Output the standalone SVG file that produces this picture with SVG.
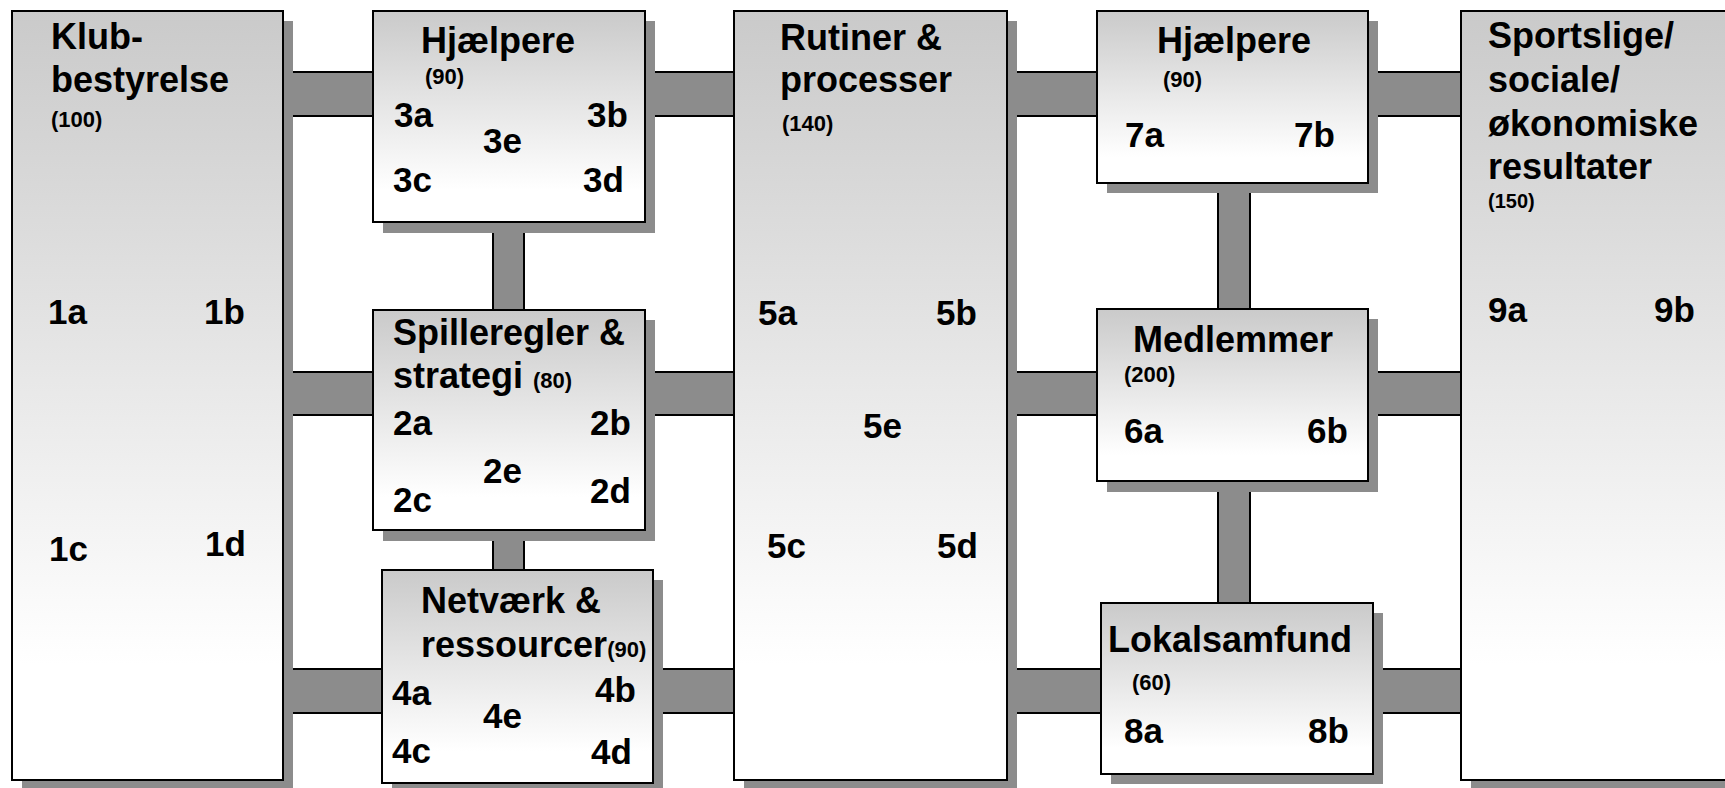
<svg xmlns="http://www.w3.org/2000/svg" width="1725" height="788" viewBox="0 0 1725 788">
<defs>
<linearGradient id="boxGrad" x1="0" y1="0" x2="0" y2="1">
<stop offset="0" stop-color="#cacaca"/>
<stop offset="0.85" stop-color="#ffffff"/>
<stop offset="1" stop-color="#ffffff"/>
</linearGradient>
<style>
.box{fill:url(#boxGrad);stroke:#000;stroke-width:2}
.shadow{fill:#8c8c8c}
.bar{fill:#8c8c8c;stroke:#000;stroke-width:2}
text{font-family:"Liberation Sans",Arial,sans-serif;font-weight:bold;fill:#000}
.t{font-size:36px}
.l{font-size:35px}
.s{font-size:22px}
</style>
</defs>
<rect width="1725" height="788" fill="#ffffff"/>
<g id="connectors">
<rect class="bar" x="283" y="72" width="1178" height="44"/>
<rect class="bar" x="283" y="372" width="1178" height="43"/>
<rect class="bar" x="283" y="669" width="1178" height="44"/>
<rect class="bar" x="493" y="222" width="31" height="348"/>
<rect class="bar" x="1218" y="183" width="32" height="420"/>
</g>
<g id="klub">
<rect class="shadow" x="22" y="21" width="271" height="769"/>
<rect class="box" x="12" y="11" width="271" height="769"/>
<text class="t" x="51" y="49">Klub-</text>
<text class="t" x="51" y="92">bestyrelse</text>
<text class="s" x="51" y="127">(100)</text>
<text class="l" x="48" y="324">1a</text>
<text class="l" x="204" y="324">1b</text>
<text class="l" x="49" y="561">1c</text>
<text class="l" x="205" y="556">1d</text>
</g>
<g id="hjaelpere3">
<rect class="shadow" x="383" y="21" width="272" height="212"/>
<rect class="box" x="373" y="11" width="272" height="211"/>
<text class="t" x="421" y="53">Hjælpere</text>
<text class="s" x="425" y="84">(90)</text>
<text class="l" x="394" y="127">3a</text>
<text class="l" x="587" y="127">3b</text>
<text class="l" x="483" y="153">3e</text>
<text class="l" x="393" y="192">3c</text>
<text class="l" x="583" y="192">3d</text>
</g>
<g id="spilleregler">
<rect class="shadow" x="383" y="320" width="272" height="221"/>
<rect class="box" x="373" y="310" width="272" height="220"/>
<text class="t" x="393" y="345">Spilleregler &amp;</text>
<text class="t" x="393" y="388">strategi <tspan class="s">(80)</tspan></text>
<text class="l" x="393" y="435">2a</text>
<text class="l" x="590" y="435">2b</text>
<text class="l" x="483" y="483">2e</text>
<text class="l" x="393" y="512">2c</text>
<text class="l" x="590" y="503">2d</text>
</g>
<g id="netvaerk">
<rect class="shadow" x="392" y="580" width="271" height="213"/>
<rect class="box" x="382" y="570" width="271" height="213"/>
<text class="t" x="421" y="613">Netværk &amp;</text>
<text class="t" x="421" y="657">ressourcer<tspan class="s">(90)</tspan></text>
<text class="l" x="392" y="705">4a</text>
<text class="l" x="595" y="702">4b</text>
<text class="l" x="483" y="728">4e</text>
<text class="l" x="392" y="763">4c</text>
<text class="l" x="591" y="764">4d</text>
</g>
<g id="rutiner">
<rect class="shadow" x="744" y="21" width="273" height="769"/>
<rect class="box" x="734" y="11" width="273" height="769"/>
<text class="t" x="780" y="50">Rutiner &amp;</text>
<text class="t" x="780" y="92">processer</text>
<text class="s" x="782" y="131">(140)</text>
<text class="l" x="758" y="325">5a</text>
<text class="l" x="936" y="325">5b</text>
<text class="l" x="863" y="438">5e</text>
<text class="l" x="767" y="558">5c</text>
<text class="l" x="937" y="558">5d</text>
</g>
<g id="hjaelpere7">
<rect class="shadow" x="1107" y="21" width="271" height="172"/>
<rect class="box" x="1097" y="11" width="271" height="172"/>
<text class="t" x="1157" y="53">Hjælpere</text>
<text class="s" x="1163" y="87">(90)</text>
<text class="l" x="1125" y="147">7a</text>
<text class="l" x="1294" y="147">7b</text>
</g>
<g id="medlemmer">
<rect class="shadow" x="1107" y="319" width="271" height="173"/>
<rect class="box" x="1097" y="309" width="271" height="172"/>
<text class="t" x="1133" y="352">Medlemmer</text>
<text class="s" x="1124" y="382">(200)</text>
<text class="l" x="1124" y="443">6a</text>
<text class="l" x="1307" y="443">6b</text>
</g>
<g id="lokalsamfund">
<rect class="shadow" x="1111" y="613" width="272" height="171"/>
<rect class="box" x="1101" y="603" width="272" height="171"/>
<text class="t" x="1108" y="652">Lokalsamfund</text>
<text class="s" x="1132" y="690">(60)</text>
<text class="l" x="1124" y="743">8a</text>
<text class="l" x="1308" y="743">8b</text>
</g>
<g id="resultater">
<rect class="shadow" x="1471" y="21" width="280" height="769"/>
<rect class="box" x="1461" y="11" width="280" height="769"/>
<text class="t" x="1488" y="48">Sportslige/</text>
<text class="t" x="1488" y="92">sociale/</text>
<text class="t" x="1488" y="136">økonomiske</text>
<text class="t" x="1488" y="179">resultater</text>
<text class="s" x="1488" y="208" style="font-size:20px">(150)</text>
<text class="l" x="1488" y="322">9a</text>
<text class="l" x="1654" y="322">9b</text>
</g>
</svg>
